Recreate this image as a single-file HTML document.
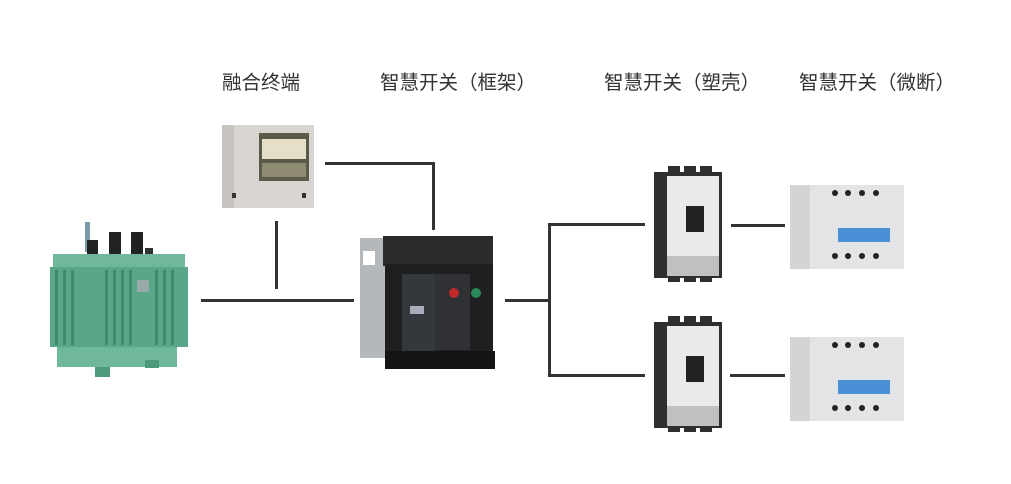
<!DOCTYPE html>
<html><head><meta charset="utf-8"><style>
body{margin:0;width:1011px;height:484px;background:#fff;position:relative;overflow:hidden;font-family:"Liberation Sans","Noto Sans CJK SC",sans-serif}
.t{position:absolute;top:71px;font-size:19.5px;color:#333;white-space:nowrap;line-height:24px}
.l{position:absolute;background:#333}
.a{position:absolute}
</style></head><body>
<div class="t" style="left:222px">融合终端</div>
<div class="t" style="left:380px">智慧开关（框架）</div>
<div class="t" style="left:604px">智慧开关（塑壳）</div>
<div class="t" style="left:799px">智慧开关（微断）</div>

<div class="l" style="left:201px;top:299px;width:153px;height:3px"></div>
<div class="l" style="left:275px;top:221px;width:3px;height:68px"></div>
<div class="l" style="left:325px;top:162px;width:110px;height:3px"></div>
<div class="l" style="left:432px;top:162px;width:3px;height:68px"></div>
<div class="l" style="left:505px;top:299px;width:46px;height:3px"></div>
<div class="l" style="left:548px;top:223px;width:3px;height:154px"></div>
<div class="l" style="left:548px;top:223px;width:97px;height:3px"></div>
<div class="l" style="left:548px;top:374px;width:97px;height:3px"></div>
<div class="l" style="left:731px;top:224px;width:54px;height:3px"></div>
<div class="l" style="left:730px;top:374px;width:55px;height:3px"></div>

<svg class="a" style="left:45px;top:212px" width="145" height="170">
<rect x="40" y="10" width="5" height="30" fill="#7a9aa8"/>
<rect x="42" y="28" width="11" height="28" fill="#222"/>
<rect x="64" y="20" width="12" height="34" fill="#222"/>
<rect x="86" y="20" width="12" height="34" fill="#222"/>
<rect x="100" y="36" width="8" height="18" fill="#333"/>
<rect x="8" y="42" width="132" height="14" fill="#6fb89a"/>
<rect x="5" y="55" width="138" height="80" fill="#5aa689"/>
<g fill="#3d8a6c"><rect x="10" y="58" width="3" height="75"/><rect x="18" y="58" width="3" height="75"/><rect x="26" y="58" width="3" height="75"/><rect x="60" y="58" width="3" height="75"/><rect x="68" y="58" width="3" height="75"/><rect x="76" y="58" width="3" height="75"/><rect x="84" y="58" width="3" height="75"/><rect x="110" y="58" width="3" height="75"/><rect x="118" y="58" width="3" height="75"/><rect x="126" y="58" width="3" height="75"/></g>
<rect x="92" y="68" width="12" height="12" fill="#9aa"/>
<rect x="12" y="135" width="120" height="20" fill="#6fb89a"/>
<rect x="50" y="155" width="15" height="10" fill="#4d9b7b"/><rect x="100" y="148" width="14" height="8" fill="#4d9b7b"/>
</svg>

<svg class="a" style="left:222px;top:125px" width="95" height="85">
<rect x="0" y="0" width="92" height="83" fill="#d8d4d0"/>
<rect x="0" y="0" width="12" height="83" fill="#c6c2be"/>
<rect x="37" y="8" width="50" height="48" fill="#5b5a48"/>
<rect x="40" y="14" width="44" height="20" fill="#e5dfc7"/>
<rect x="40" y="38" width="44" height="14" fill="#8f8b72"/>
<rect x="10" y="68" width="4" height="5" fill="#333"/><rect x="80" y="68" width="4" height="5" fill="#333"/>
</svg>

<svg class="a" style="left:355px;top:236px" width="142" height="134">
<rect x="5" y="2" width="30" height="120" fill="#b5b8bb"/>
<rect x="28" y="0" width="110" height="30" fill="#2a2b2d"/>
<rect x="30" y="28" width="108" height="90" fill="#1e1f21"/>
<rect x="47" y="38" width="34" height="80" fill="#34373c"/>
<rect x="80" y="38" width="35" height="76" fill="#2f3135"/>
<circle cx="99" cy="57" r="5" fill="#c0282a"/><circle cx="121" cy="57" r="5" fill="#2b8a57"/>
<rect x="55" y="70" width="14" height="8" fill="#aab"/>
<rect x="30" y="115" width="110" height="18" fill="#141414"/>
<rect x="8" y="15" width="12" height="14" fill="#fff"/>
</svg>

<svg class="a" style="left:654px;top:166px" width="70" height="118">
<g fill="#2e2f31"><rect x="14" y="0" width="12" height="8"/><rect x="30" y="0" width="12" height="8"/><rect x="46" y="0" width="12" height="8"/><rect x="14" y="108" width="12" height="8"/><rect x="30" y="108" width="12" height="8"/><rect x="46" y="108" width="12" height="8"/></g>
<rect x="0" y="6" width="68" height="106" fill="#2e2f31"/>
<rect x="13" y="10" width="52" height="80" fill="#e9eaeb"/>
<rect x="32" y="40" width="18" height="26" fill="#222"/>
<rect x="13" y="90" width="52" height="20" fill="#bfc0c2"/>
</svg>
<svg class="a" style="left:654px;top:316px" width="70" height="118">
<g fill="#2e2f31"><rect x="14" y="0" width="12" height="8"/><rect x="30" y="0" width="12" height="8"/><rect x="46" y="0" width="12" height="8"/><rect x="14" y="108" width="12" height="8"/><rect x="30" y="108" width="12" height="8"/><rect x="46" y="108" width="12" height="8"/></g>
<rect x="0" y="6" width="68" height="106" fill="#2e2f31"/>
<rect x="13" y="10" width="52" height="80" fill="#e9eaeb"/>
<rect x="32" y="40" width="18" height="26" fill="#222"/>
<rect x="13" y="90" width="52" height="20" fill="#bfc0c2"/>
</svg>

<svg class="a" style="left:788px;top:183px" width="120" height="88">
<rect x="2" y="2" width="114" height="84" fill="#e2e4e6"/>
<rect x="2" y="2" width="20" height="84" fill="#d2d4d6"/>
<g fill="#222"><circle cx="47" cy="10" r="3"/><circle cx="60" cy="10" r="3"/><circle cx="74" cy="10" r="3"/><circle cx="88" cy="10" r="3"/><circle cx="47" cy="73" r="3"/><circle cx="60" cy="73" r="3"/><circle cx="74" cy="73" r="3"/><circle cx="88" cy="73" r="3"/></g>
<rect x="50" y="45" width="52" height="14" fill="#4a8fd6"/>
</svg>
<svg class="a" style="left:788px;top:335px" width="120" height="88">
<rect x="2" y="2" width="114" height="84" fill="#e2e4e6"/>
<rect x="2" y="2" width="20" height="84" fill="#d2d4d6"/>
<g fill="#222"><circle cx="47" cy="10" r="3"/><circle cx="60" cy="10" r="3"/><circle cx="74" cy="10" r="3"/><circle cx="88" cy="10" r="3"/><circle cx="47" cy="73" r="3"/><circle cx="60" cy="73" r="3"/><circle cx="74" cy="73" r="3"/><circle cx="88" cy="73" r="3"/></g>
<rect x="50" y="45" width="52" height="14" fill="#4a8fd6"/>
</svg>
</body></html>
